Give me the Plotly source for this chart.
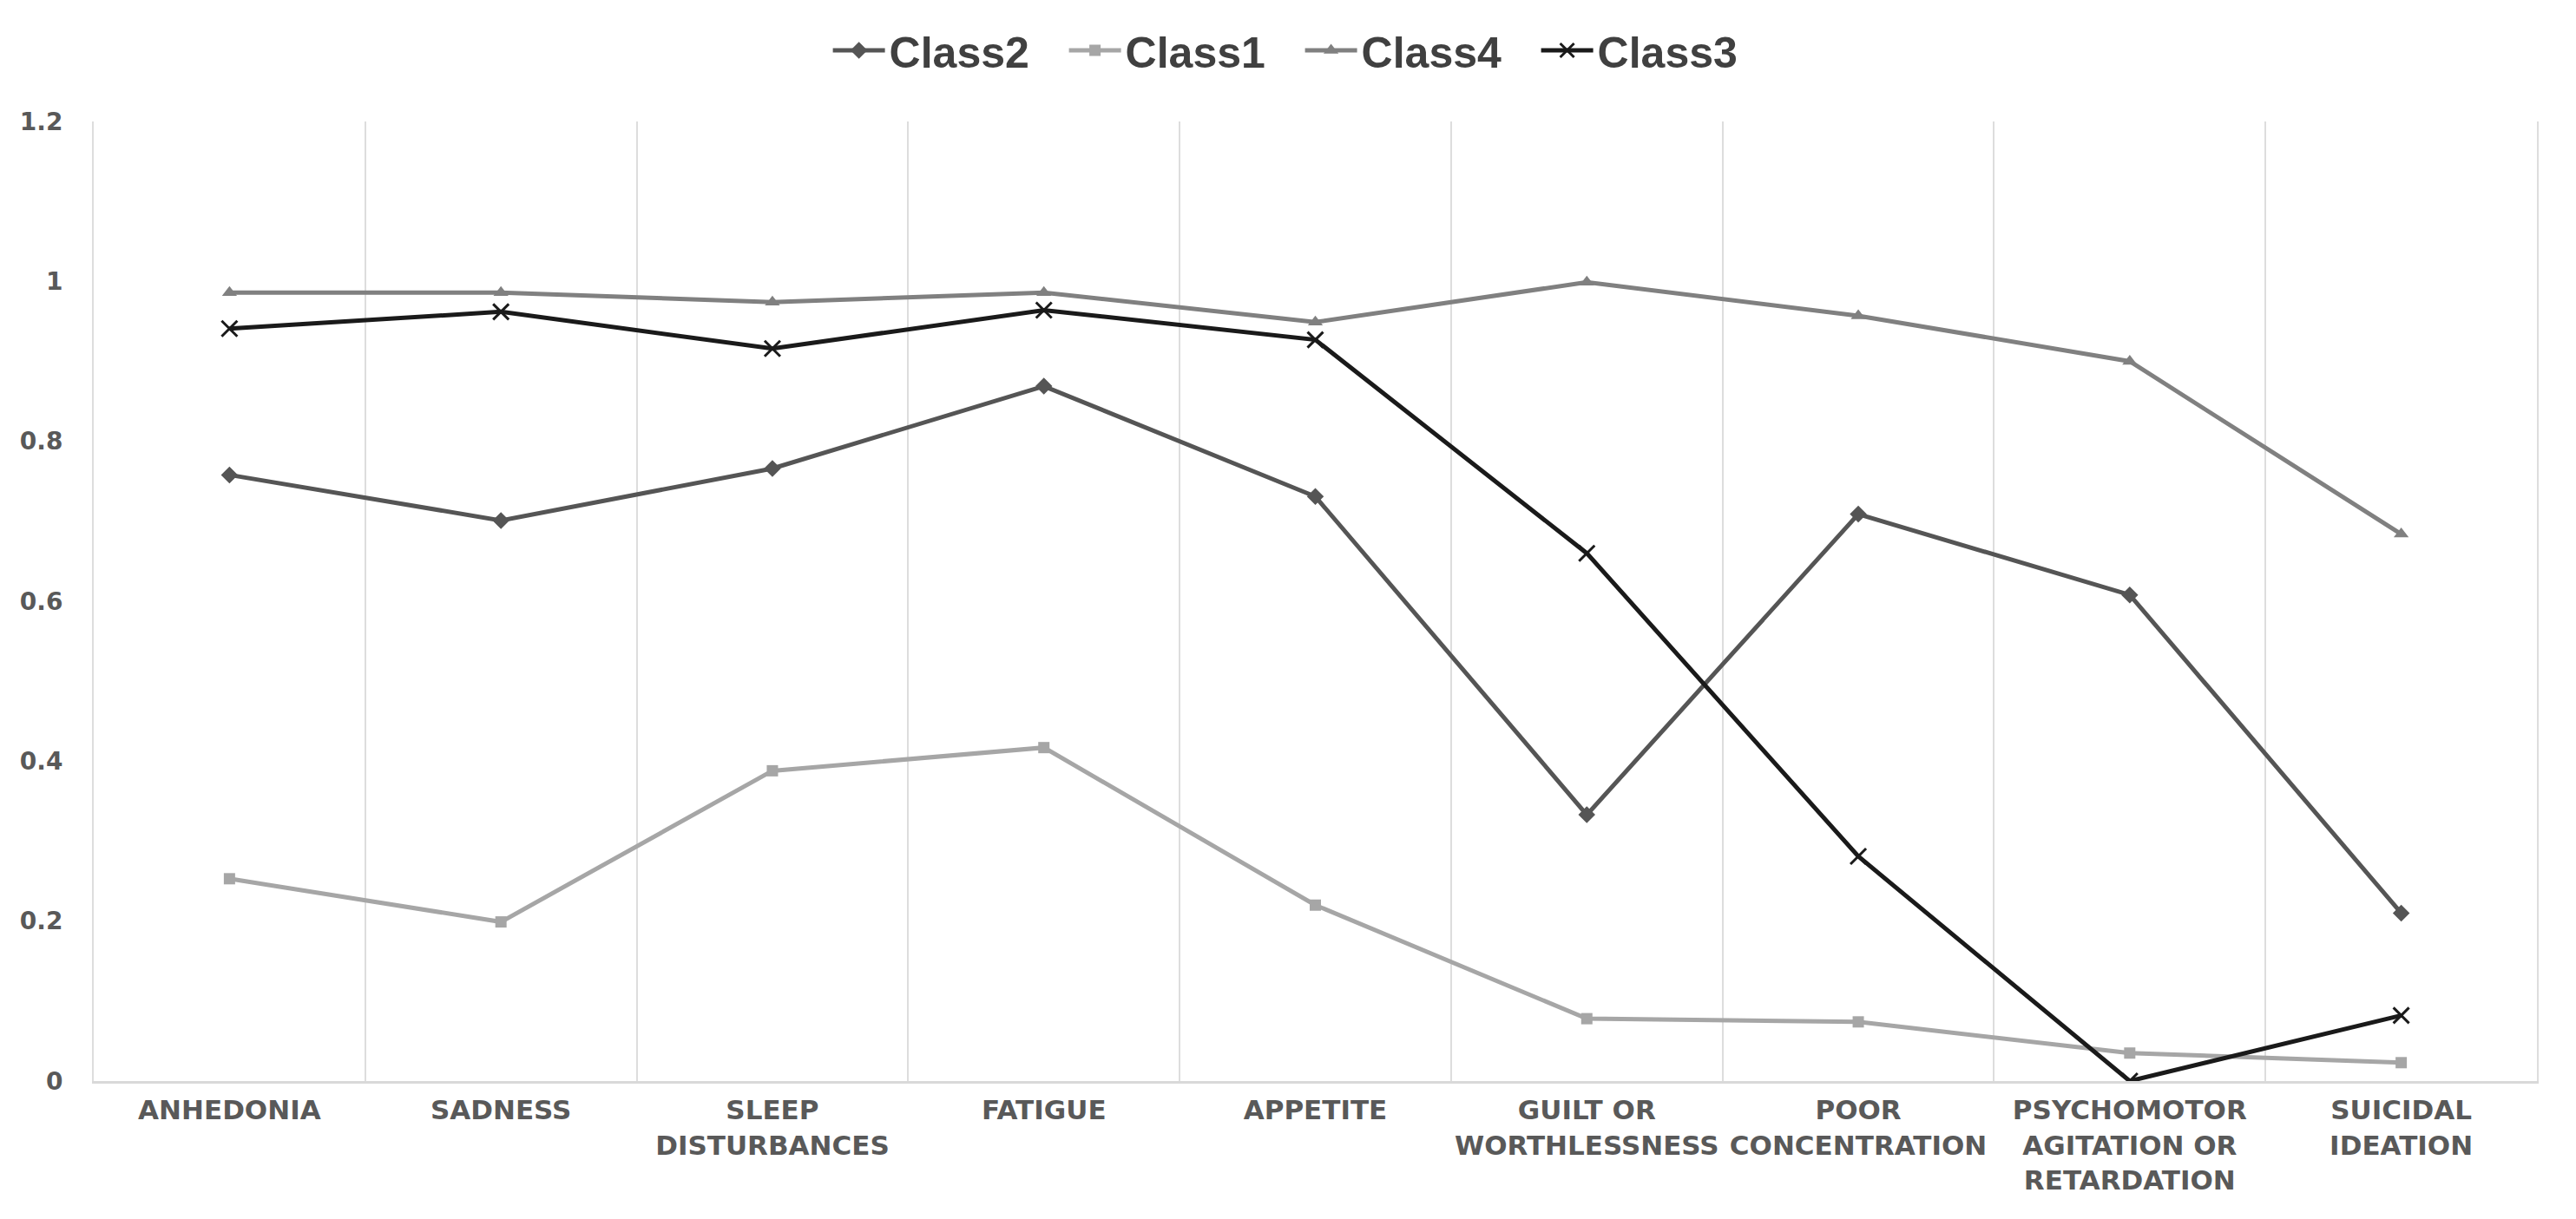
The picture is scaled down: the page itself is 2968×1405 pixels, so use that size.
import plotly.graph_objects as go

categories = ["ANHEDONIA", "SADNESS", "SLEEP<br>DISTURBANCES", "FATIGUE", "APPETITE",
              "GUILT OR<br>WORTHLESSNESS", "POOR<br>CONCENTRATION",
              "PSYCHOMOTOR<br>AGITATION OR<br>RETARDATION", "SUICIDAL<br>IDEATION"]

class2 = [0.758, 0.701, 0.766, 0.869, 0.731, 0.333, 0.709, 0.608, 0.210]
class1 = [0.253, 0.199, 0.388, 0.417, 0.220, 0.078, 0.074, 0.035, 0.023]
class4 = [0.986, 0.986, 0.974, 0.986, 0.949, 0.999, 0.957, 0.900, 0.684]
class3 = [0.941, 0.962, 0.916, 0.964, 0.927, 0.660, 0.281, 0.000, 0.082]

series = [
    ("Class2", class2, "#555555", "diamond", 15),
    ("Class1", class1, "#A6A6A6", "square", 13),
    ("Class4", class4, "#808080", "triangle-up", 15),
    ("Class3", class3, "#1A1A1A", "x-thin", 18),
]

fig = go.Figure()
for name, vals, color, sym, size in series:
    marker = dict(symbol=sym, size=size, color=color)
    if sym == "x-thin":
        marker["line"] = dict(color=color, width=3)
    fig.add_trace(go.Scatter(
        x=categories, y=vals, name=name, mode="lines+markers",
        line=dict(color=color, width=5), marker=marker,
    ))

fig.update_layout(
    width=2968, height=1405,
    paper_bgcolor="white", plot_bgcolor="white",
    margin=dict(l=100, r=53, t=132, b=167, autoexpand=False),
    font=dict(family="Liberation Sans, Arial, sans-serif", color="#595959"),
    showlegend=True,
    legend=dict(orientation="h", x=0.494, xanchor="center",
                yref="container", y=1 - 50 / 1405, yanchor="middle",
                font=dict(size=50, color="#404040", weight="bold"),
                itemwidth=60, entrywidth=197, tracegroupgap=0,
                bgcolor="rgba(0,0,0,0)"),
)
fig.update_xaxes(
    type="category", tickson="boundaries", showgrid=True, gridcolor="#DDDDDD", gridwidth=2,
    showline=True, linecolor="#D9D9D9", linewidth=3, ticks="", zeroline=False,
    tickfont=dict(size=31, color="#595959", weight="bold",
                  family="DejaVu Sans, sans-serif"),
    ticklabelstandoff=4,
    range=[-0.5, 8.5], tickangle=0,
)
fig.update_yaxes(
    range=[0, 1.2], dtick=0.2, showgrid=False, zeroline=False,
    showline=True, mirror=True, linecolor="#DDDDDD", linewidth=2,
    tickfont=dict(size=28, color="#595959", weight="bold",
                  family="DejaVu Sans, sans-serif"),
    ticks="", ticklabelstandoff=28,
)

fig.write_html("out.html")
